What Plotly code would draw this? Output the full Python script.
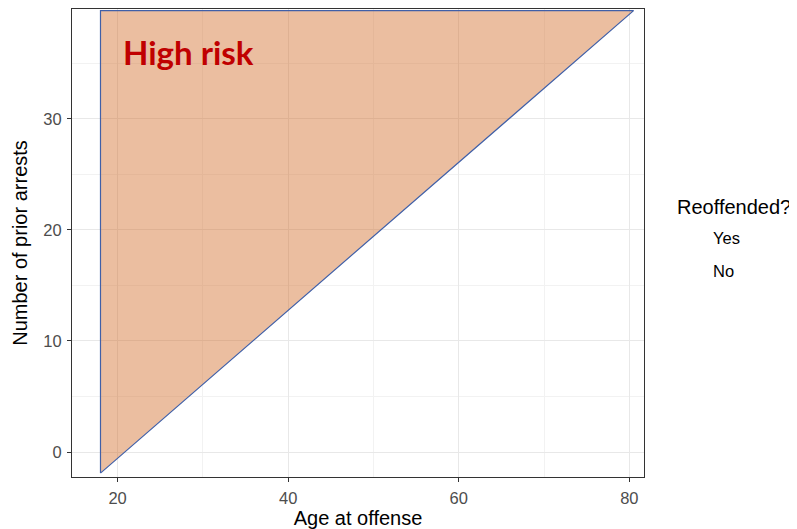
import plotly.graph_objects as go

# Region polygon (age at offense, number of prior arrests)
region_x = [18, 18, 80.5, 18]
region_y = [-1.9, 39.75, 39.75, -1.9]
region_label = "High risk"
label_pos = (28.3, 36.0)

legend_title = "Reoffended?"
legend_items = ["Yes", "No"]

x_ticks = [20, 40, 60, 80]
y_ticks = [0, 10, 20, 30]

W, H = 789, 521
FONT = "Liberation Sans, Arial"

fig = go.Figure()
fig.add_trace(go.Scatter(
    x=region_x, y=region_y, mode="lines", fill="toself",
    fillcolor="rgba(210,110,45,0.45)",
    line=dict(color="#4060A8", width=1.2),
    showlegend=False, hoverinfo="skip",
))
for i, name in enumerate(legend_items):
    fig.add_trace(go.Scatter(
        x=[None], y=[None], mode="markers", name=name,
        marker=dict(color="rgba(0,0,0,0)", size=10),
        legendgroup=name,
    ))

fig.add_annotation(
    x=label_pos[0], y=label_pos[1], text="<b>" + region_label + "</b>",
    showarrow=False, font=dict(family="Lato", size=33, color="#C00000"),
)

# legend title (positioned as a separate text)
fig.add_annotation(
    xref="paper", yref="paper", x=1.0 + 31 / 572, y=(469 - 199) / 468,
    xanchor="left", yanchor="middle", showarrow=False, text=legend_title,
    font=dict(family=FONT, size=20, color="black"),
)

axis_common = dict(
    showline=True, linecolor="#333333", linewidth=1.2, mirror=True,
    ticks="outside", ticklen=4, tickcolor="#333333", tickwidth=1.1,
    tickfont=dict(family=FONT, size=16.5, color="#4D4D4D"),
    showgrid=True, gridcolor="#E8E8E8", gridwidth=1.1, zeroline=False,
    ticklabelstandoff=2,
)

fig.update_xaxes(
    range=[14.66, 81.72], tickvals=x_ticks,
    minor=dict(tickvals=[30, 50, 70], showgrid=True, gridcolor="#F2F2F2", gridwidth=0.6, ticks=""),
    title=dict(text="Age at offense", font=dict(family=FONT, size=20, color="black"), standoff=0),
    **axis_common,
)
fig.update_yaxes(
    range=[-2.25, 39.9], tickvals=y_ticks,
    minor=dict(tickvals=[5, 15, 25, 35], showgrid=True, gridcolor="#F2F2F2", gridwidth=0.6, ticks=""),
    title=dict(text="Number of prior arrests", font=dict(family=FONT, size=20, color="black"), standoff=10),
    **axis_common,
)

fig.update_layout(
    width=W, height=H,
    margin=dict(l=64, r=153, t=1, b=52, autoexpand=False),
    plot_bgcolor="white", paper_bgcolor="white",
    legend=dict(
        font=dict(family=FONT, size=16.5, color="black"),
        x=1.0 + 29 / 572, xanchor="left", y=(469 - 212) / 468, yanchor="top",
        tracegroupgap=9, itemwidth=30,
    ),
)

fig.write_html("out.html")
